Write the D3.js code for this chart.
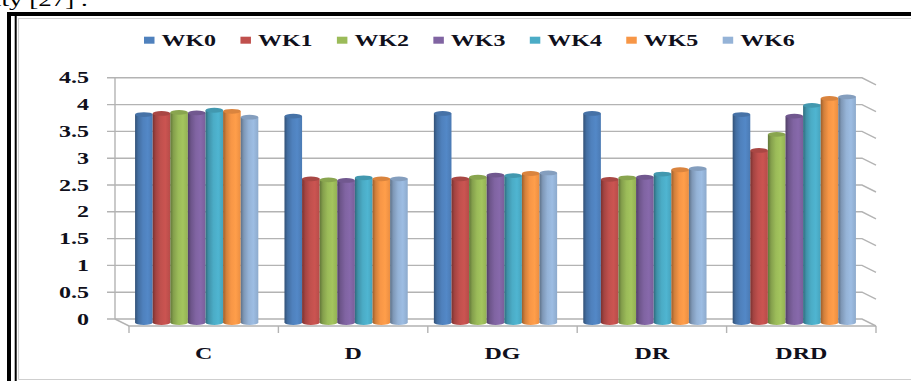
<!DOCTYPE html>
<html>
<head>
<meta charset="utf-8">
<script src="https://cdn.jsdelivr.net/npm/d3@7"></script>
<style>
  html, body { margin: 0; padding: 0; background: #fff; }
  svg { display: block; }
</style>
</head>
<body>
<svg id="chart" width="911" height="381"></svg>
<script>
// Weekly scores per group (WK0 … WK6)
const categories = ["C", "D", "DG", "DR", "DRD"];
const series = ["WK0", "WK1", "WK2", "WK3", "WK4", "WK5", "WK6"];
const wk0 = [3.88, 3.85, 3.90, 3.90, 3.88];
const wk1 = [3.90, 2.68, 2.68, 2.67, 3.21];
const wk2 = [3.92, 2.66, 2.71, 2.70, 3.51];
const wk3 = [3.91, 2.65, 2.75, 2.71, 3.85];
const wk4 = [3.96, 2.70, 2.74, 2.77, 4.05];
const wk5 = [3.94, 2.68, 2.78, 2.85, 4.18];
const wk6 = [3.83, 2.68, 2.79, 2.87, 4.21];
const yTicks = [0, 0.5, 1, 1.5, 2, 2.5, 3, 3.5, 4, 4.5];
const colors = ["#4F81BD", "#C0504D", "#9BBB59", "#8064A2", "#4BACC6", "#F79646", "#95B3D7"];

const values = [wk0, wk1, wk2, wk3, wk4, wk5, wk6];

const svg = d3.select("#chart");
const defs = svg.append("defs");

// Page text above the chart (cut off by the top edge)
const FONT = "'Liberation Serif', 'Times New Roman', serif";
const SX = 1.5; // horizontal stretch of all text
function stretchedText(g, x, y, str, opts) {
  return g.append("text")
    .attr("transform", `translate(${x},${y}) scale(${SX},1)`)
    .attr("font-family", FONT)
    .attr("font-size", opts.size)
    .attr("font-weight", opts.weight || "bold")
    .attr("fill", opts.fill || "#10101c")
    .attr("text-anchor", opts.anchor || "start")
    .text(str);
}
stretchedText(svg, -6, 6, "ity [27] .", { size: 18, weight: "normal", fill: "#000" });

// Outer frame
svg.append("path").attr("d", "M9,381 V14 H911").attr("fill", "none")
  .attr("stroke", "#000").attr("stroke-width", 4);
svg.append("path").attr("d", "M15.7,381 V16").attr("fill", "none")
  .attr("stroke", "#000").attr("stroke-width", 2);
svg.append("path").attr("d", "M18.5,379.5 V18.5 H911 M18.5,379.5 H911").attr("fill", "none")
  .attr("stroke", "#cfcfcf").attr("stroke-width", 1.2);

// 3-D projection: front plane scales plus a depth offset
const DX = 14, DY = 7;
const x0 = d3.scaleBand().domain(categories).range([129, 876])
  .paddingInner(0.175).paddingOuter(0.0875);
const x1 = d3.scaleBand().domain(series).range([0, x0.bandwidth()]);
const y = d3.scaleLinear().domain([0, 4.5]).range([326, 326 - 241.2]);
const wallY = v => y(v) - DY;
const wallLeft = 129 - DX, wallRight = 876 - DX;

// Gridlines on back wall and right side wall
const grid = svg.append("g").attr("fill", "none").attr("stroke", "#b3b3b3").attr("stroke-width", 1.4);
yTicks.forEach(t => {
  const wy = wallY(t);
  grid.append("path").attr("d", `M${wallLeft - 8},${wy} H${wallRight} L${wallRight + DX},${wy + DY}`);
});
grid.append("line").attr("x1", wallLeft).attr("x2", wallLeft)
  .attr("y1", wallY(4.5)).attr("y2", wallY(0));
// Floor edges
grid.append("path").attr("d", `M${wallLeft},${wallY(0)} L${wallLeft + DX},${y(0)} H${wallRight + DX}`);
// Category tick marks
const step = x0.step();
categories.concat([null]).forEach((c, i) => {
  const tx = 129 + i * step;
  grid.append("line").attr("x1", tx).attr("x2", tx).attr("y1", y(0)).attr("y2", y(0) + 7);
});

// Y tick labels
const yLab = svg.append("g");
yTicks.forEach(t => {
  stretchedText(yLab, 89, wallY(t) + 5.5, String(t), { size: 16, anchor: "end" });
});

// Cylinder gradients per series
colors.forEach((c, i) => {
  const g = defs.append("linearGradient").attr("id", "cyl" + i)
    .attr("x1", "0%").attr("x2", "100%").attr("y1", "0%").attr("y2", "0%");
  const base = d3.color(c);
  [[0, base.darker(1.3)], [0.18, base.darker(0.45)], [0.45, base],
   [0.72, base.brighter(0.15)], [1, base.darker(0.15)]]
    .forEach(([o, col]) => g.append("stop").attr("offset", o).attr("stop-color", col.formatHex()));
});

// Bars drawn as cylinders at mid depth
const RY = 2.4;
const bars = svg.append("g");
categories.forEach((cat, ci) => {
  series.forEach((s, si) => {
    const v = values[si][ci];
    const xl = x0(cat) + x1(s) - DX / 2;
    const w = x1.bandwidth();
    const yb = y(0) - DY / 2;
    const yt = y(v) - DY / 2;
    const rx = w / 2;
    const g = bars.append("g");
    g.append("path")
      .attr("d", `M${xl},${yt} V${yb} A${rx},${RY} 0 0 0 ${xl + w},${yb} V${yt} Z`)
      .attr("fill", `url(#cyl${si})`);
    g.append("ellipse").attr("cx", xl + rx).attr("cy", yt).attr("rx", rx).attr("ry", RY)
      .attr("fill", d3.color(colors[si]).darker(0.35).formatHex());
  });
});

// Category labels
const xLab = svg.append("g");
categories.forEach(c => {
  stretchedText(xLab, x0(c) + x0.bandwidth() / 2, 359, c, { size: 16, anchor: "middle" });
});

// Legend
const legend = svg.append("g");
series.forEach((s, i) => {
  const lx = 144 + i * 96.45;
  legend.append("rect").attr("x", lx).attr("y", 36.7).attr("width", 10.5).attr("height", 7)
    .attr("fill", colors[i]);
  stretchedText(legend, lx + 17.5, 45.5, s, { size: 16 });
});
</script>
</body>
</html>
